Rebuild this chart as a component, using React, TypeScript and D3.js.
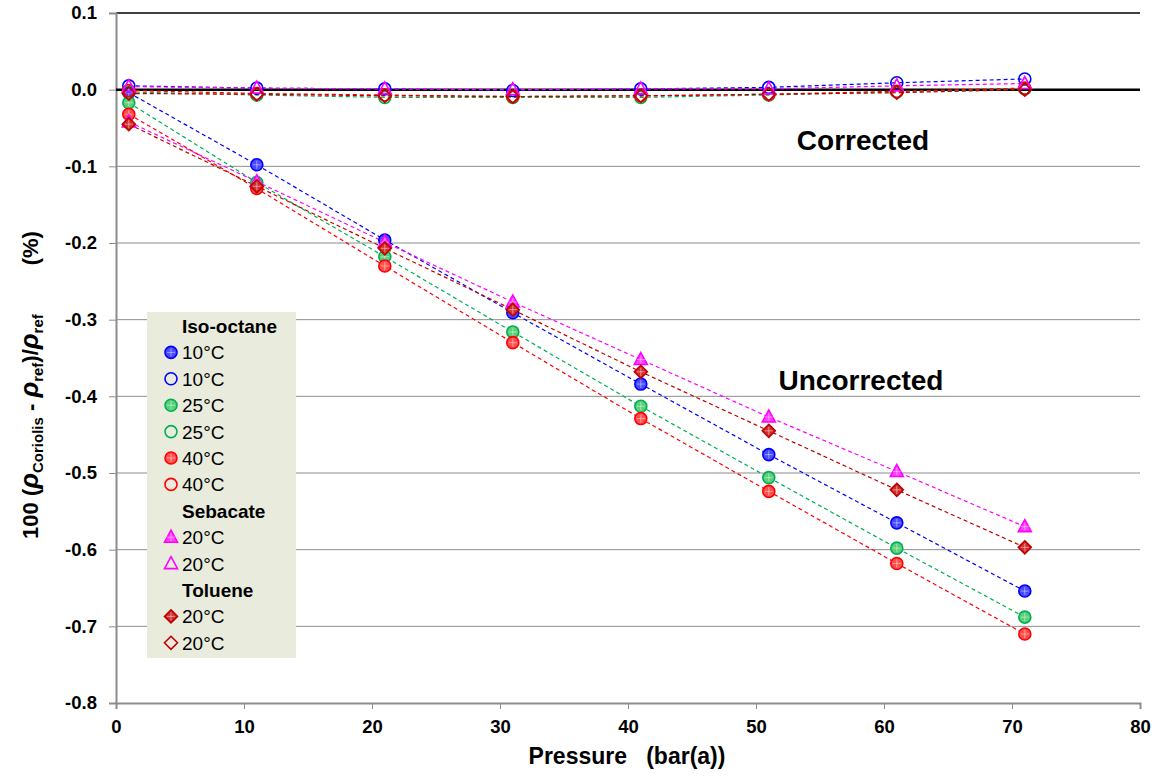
import React, { useRef, useEffect } from 'react';
import * as d3 from 'd3';

// pressure points (bar(a))
const pressures = [1, 11, 21, 31, 41, 51, 61, 71];

// uncorrected deviations (%), filled markers
const isoOctane10Unc = [-0.004, -0.098, -0.196, -0.291, -0.384, -0.476, -0.565, -0.654];
const isoOctane25Unc = [-0.017, -0.121, -0.218, -0.316, -0.413, -0.506, -0.598, -0.688];
const isoOctane40Unc = [-0.032, -0.129, -0.230, -0.330, -0.429, -0.524, -0.618, -0.710];
const sebacate20Unc = [-0.042, -0.120, -0.199, -0.277, -0.352, -0.427, -0.498, -0.570];
const toluene20Unc = [-0.045, -0.126, -0.207, -0.287, -0.368, -0.445, -0.522, -0.597];

// corrected deviations (%), open markers
const isoOctane10Cor = [0.005, 0.002, 0.001, -0.001, 0.001, 0.003, 0.009, 0.014];
const isoOctane25Cor = [-0.003, -0.007, -0.010, -0.010, -0.010, -0.007, -0.003, 0.001];
const isoOctane40Cor = [-0.001, -0.005, -0.007, -0.009, -0.008, -0.006, -0.002, 0.002];
const sebacate20Cor = [0.004, 0.002, 0.001, 0.000, 0.001, 0.001, 0.005, 0.008];
const toluene20Cor = [-0.005, -0.006, -0.008, -0.009, -0.008, -0.006, -0.004, 0.000];

const xTicks = [0, 10, 20, 30, 40, 50, 60, 70, 80];
const yTicks = [0.1, 0, -0.1, -0.2, -0.3, -0.4, -0.5, -0.6, -0.7, -0.8];

type Series = { values: number[]; color: string; shape: string; filled: boolean; label: string };

const series: Series[] = [
  { values: isoOctane10Unc, color: '#0000ff', shape: 'circle', filled: true, label: '10°C' },
  { values: isoOctane10Cor, color: '#0000ff', shape: 'circle', filled: false, label: '10°C' },
  { values: isoOctane25Unc, color: '#00b050', shape: 'circle', filled: true, label: '25°C' },
  { values: isoOctane25Cor, color: '#00b050', shape: 'circle', filled: false, label: '25°C' },
  { values: isoOctane40Unc, color: '#ff0000', shape: 'circle', filled: true, label: '40°C' },
  { values: isoOctane40Cor, color: '#ff0000', shape: 'circle', filled: false, label: '40°C' },
  { values: sebacate20Unc, color: '#ff00ff', shape: 'triangle', filled: true, label: '20°C' },
  { values: sebacate20Cor, color: '#ff00ff', shape: 'triangle', filled: false, label: '20°C' },
  { values: toluene20Unc, color: '#c00000', shape: 'diamond', filled: true, label: '20°C' },
  { values: toluene20Cor, color: '#c00000', shape: 'diamond', filled: false, label: '20°C' },
];

const fillColors: Record<string, string> = {
  '#0000ff': '#4a4aff',
  '#00b050': '#5ad07a',
  '#ff0000': '#ff5050',
  '#ff00ff': '#ff40ff',
  '#c00000': '#d03030',
};

const legendRows = [
  { header: 'Iso-octane' }, { s: 0 }, { s: 1 }, { s: 2 }, { s: 3 }, { s: 4 }, { s: 5 },
  { header: 'Sebacate' }, { s: 6 }, { s: 7 },
  { header: 'Toluene' }, { s: 8 }, { s: 9 },
];

const font = 'Arial, "Liberation Sans", sans-serif';

function drawMarker(g: any, shape: string, color: string, filled: boolean, cx: number, cy: number) {
  const m = g.append('g').attr('transform', `translate(${cx},${cy})`);
  const fill = filled ? fillColors[color] : 'none';
  if (shape === 'circle') {
    m.append('circle').attr('r', 6).attr('fill', fill).attr('stroke', color).attr('stroke-width', 1.6);
  } else if (shape === 'triangle') {
    m.append('path').attr('d', 'M0,-7L6.5,5L-6.5,5Z').attr('fill', fill).attr('stroke', color).attr('stroke-width', 1.6);
  } else {
    m.append('path').attr('d', 'M0,-6.5L6.5,0L0,6.5L-6.5,0Z').attr('fill', fill).attr('stroke', color).attr('stroke-width', 1.6);
  }
  if (filled) {
    // hatched-cross look of the filled markers
    m.append('path').attr('d', 'M-4,0H4M0,-4V4').attr('stroke', '#ffffff').attr('stroke-opacity', 0.45).attr('stroke-width', 1);
  }
}

const App = () => {
  const ref = useRef<SVGSVGElement>(null);

  useEffect(() => {
    const svg = d3.select(ref.current);
    svg.selectAll('*').remove();

    const x = d3.scaleLinear().domain([0, 80]).range([116, 1140]);
    const y = d3.scaleLinear().domain([-0.8, 0.1]).range([703, 13]);
    const fmt = (d: any) => d3.format('.1f')(d).replace('−', '-');

    // gridlines
    svg.append('g')
      .selectAll('line')
      .data(yTicks.filter((t) => t !== -0.8 && t !== 0 && t !== 0.1))
      .enter()
      .append('line')
      .attr('x1', x(0)).attr('x2', x(80))
      .attr('y1', (d) => y(d)).attr('y2', (d) => y(d))
      .attr('stroke', '#8c8c8c').attr('stroke-width', 1);

    // top border
    svg.append('line')
      .attr('x1', x(0)).attr('x2', x(80)).attr('y1', y(0.1)).attr('y2', y(0.1))
      .attr('stroke', '#000').attr('stroke-width', 1.5);

    // y axis
    const yAxis = d3.axisLeft(y).tickValues(yTicks).tickFormat(fmt).tickSize(7).tickPadding(12);
    const ya = svg.append('g').attr('transform', `translate(${x(0)},0)`).call(yAxis);
    ya.select('.domain').attr('stroke', '#8c8c8c').attr('stroke-width', 2);
    ya.selectAll('.tick line').attr('stroke', '#8c8c8c');
    ya.selectAll('.tick text').attr('font-family', font).attr('font-size', 18.5).attr('font-weight', 'bold').attr('fill', '#000');

    // x axis
    const xAxis = d3.axisBottom(x).tickValues(xTicks).tickFormat(d3.format('d')).tickSize(6).tickPadding(11);
    const xa = svg.append('g').attr('transform', `translate(0,${y(-0.8)})`).call(xAxis);
    xa.select('.domain').attr('stroke', '#8c8c8c').attr('stroke-width', 2);
    xa.selectAll('.tick line').attr('stroke', '#8c8c8c');
    xa.selectAll('.tick text').attr('font-family', font).attr('font-size', 18.5).attr('font-weight', 'bold').attr('fill', '#000');

    // zero line
    svg.append('line')
      .attr('x1', x(0)).attr('x2', x(80)).attr('y1', y(0)).attr('y2', y(0))
      .attr('stroke', '#000').attr('stroke-width', 2.5);

    const line = d3.line<number>().x((d, i) => x(pressures[i])).y((d) => y(d));

    series.forEach((s) => {
      svg.append('path')
        .attr('d', line(s.values))
        .attr('fill', 'none')
        .attr('stroke', s.color)
        .attr('stroke-width', 1.2)
        .attr('stroke-dasharray', '4,3');
    });

    series.forEach((s) => {
      const g = svg.append('g');
      s.values.forEach((v, i) => drawMarker(g, s.shape, s.color, s.filled, x(pressures[i]), y(v)));
    });

    // annotations
    svg.append('text').attr('x', 863).attr('y', 150).attr('text-anchor', 'middle')
      .attr('font-family', font).attr('font-size', 28).attr('font-weight', 'bold').text('Corrected');
    svg.append('text').attr('x', 861).attr('y', 390).attr('text-anchor', 'middle')
      .attr('font-family', font).attr('font-size', 28).attr('font-weight', 'bold').text('Uncorrected');

    // legend
    const lg = svg.append('g');
    lg.append('rect').attr('x', 147).attr('y', 312).attr('width', 149).attr('height', 346).attr('fill', '#e9ecdd');
    legendRows.forEach((r: any, i) => {
      const base = 333 + i * 26.4;
      if (r.header) {
        lg.append('text').attr('x', 182).attr('y', base).attr('font-family', font)
          .attr('font-size', 19).attr('font-weight', 'bold').text(r.header);
      } else {
        const s = series[r.s];
        drawMarker(lg, s.shape, s.color, s.filled, 171, base - 7);
        lg.append('text').attr('x', 182).attr('y', base).attr('font-family', font)
          .attr('font-size', 19).text(s.label);
      }
    });

    // axis titles
    svg.append('text').attr('x', 627).attr('y', 764).attr('text-anchor', 'middle')
      .attr('font-family', font).attr('font-size', 23).attr('font-weight', 'bold')
      .style('white-space', 'pre').text('Pressure   (bar(a))');

    const yt = svg.append('text')
      .attr('transform', 'translate(38,385) rotate(-90)')
      .attr('text-anchor', 'middle')
      .attr('font-family', font).attr('font-size', 22).attr('font-weight', 'bold')
      .style('white-space', 'pre');
    yt.append('tspan').text('100 (');
    yt.append('tspan').attr('font-style', 'italic').attr('font-size', 26).text('ρ');
    yt.append('tspan').attr('font-size', 15).attr('dy', 5).text('Coriolis');
    yt.append('tspan').attr('dy', -5).text(' - ');
    yt.append('tspan').attr('font-style', 'italic').attr('font-size', 26).text('ρ');
    yt.append('tspan').attr('font-size', 15).attr('dy', 5).text('ref');
    yt.append('tspan').attr('dy', -5).text(')/');
    yt.append('tspan').attr('font-style', 'italic').attr('font-size', 26).text('ρ');
    yt.append('tspan').attr('font-size', 15).attr('dy', 5).text('ref');
    yt.append('tspan').attr('dy', -5).text('        (%)');
  }, []);

  return (
    <svg ref={ref} width={1158} height={776} style={{ position: 'absolute', left: 0, top: 0, background: '#fff' }} />
  );
};

export default App;
